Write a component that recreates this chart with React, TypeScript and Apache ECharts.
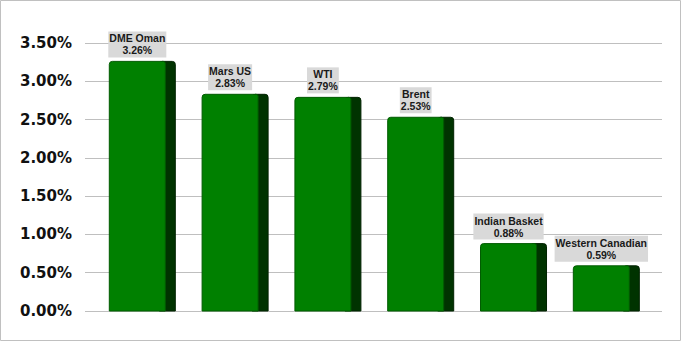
import React, { useEffect, useRef } from "react";
import * as echarts from "echarts";

const categories = ["DME Oman", "Mars US", "WTI", "Brent", "Indian Basket", "Western Canadian"];
const values = [3.26, 2.83, 2.79, 2.53, 0.88, 0.59];
const yTicks = { min: 0, max: 3.5, interval: 0.5 };

export default function App() {
  const ref = useRef<HTMLDivElement>(null);
  useEffect(() => {
    const chart = echarts.init(ref.current!, null, { renderer: "svg" });
    const data = values.map((v, i) => [i, v]);
    chart.setOption({
      animation: false,
      backgroundColor: "#ffffff",
      grid: { left: 85, right: 19, top: 43, bottom: 30 },
      xAxis: {
        type: "value",
        min: -0.6175,
        max: 5.6,
        show: false,
        splitLine: { show: false },
      },
      yAxis: {
        type: "value",
        min: yTicks.min,
        max: yTicks.max,
        interval: yTicks.interval,
        axisLine: { show: false },
        axisTick: { show: false },
        splitLine: { lineStyle: { color: "#bfbfbf", width: 1 } },
        axisLabel: {
          margin: 13,
          fontFamily: "DejaVu Sans",
          fontWeight: "bold",
          fontSize: 15,
          color: "#111",
          formatter: (v: number) => v.toFixed(2) + "%",
        },
      },
      graphic: [
        {
          type: "rect",
          shape: { x: 0.5, y: 0.5, width: 680, height: 340 },
          style: { fill: "none", stroke: "#c0c0c0", lineWidth: 1 },
          silent: true,
        },
      ],
      series: [
        {
          type: "custom",
          data,
          encode: { x: 0, y: 1 },
          renderItem: (params: any, api: any) => {
            const i = api.value(0);
            const v = api.value(1);
            const top = api.coord([i, v]);
            const base = api.coord([i, 0]);
            const cx = top[0];
            const h = base[1] - top[1];
            const left = cx - 33;
            return {
              type: "group",
              children: [
                {
                  type: "rect",
                  shape: { x: left + 50, y: top[1], width: 16, height: h, r: [3, 3, 0, 0] },
                  style: { fill: "#003300", stroke: "#002200", lineWidth: 1 },
                },
                {
                  type: "rect",
                  shape: { x: left, y: top[1], width: 56, height: h, r: [3, 2, 0, 0] },
                  style: { fill: "#008000", stroke: "#005a00", lineWidth: 1 },
                },
                {
                  type: "text",
                  x: left + 28,
                  y: top[1] - 4,
                  style: {
                    text: categories[params.dataIndex] + "\n" + values[params.dataIndex].toFixed(2) + "%",
                    align: "center",
                    verticalAlign: "bottom",
                    font: "bold 10.5px 'Liberation Sans', Arial, sans-serif",
                    lineHeight: 12,
                    fill: "#1a1a1a",
                    backgroundColor: "#d9d9d9",
                    padding: [1, 1, 1, 1],
                  },
                },
              ],
            };
          },
        },
      ],
    });
    return () => chart.dispose();
  }, []);
  return (
    <div
      ref={ref}
      style={{ position: "absolute", left: 0, top: 0, width: 681, height: 341 }}
    />
  );
}
